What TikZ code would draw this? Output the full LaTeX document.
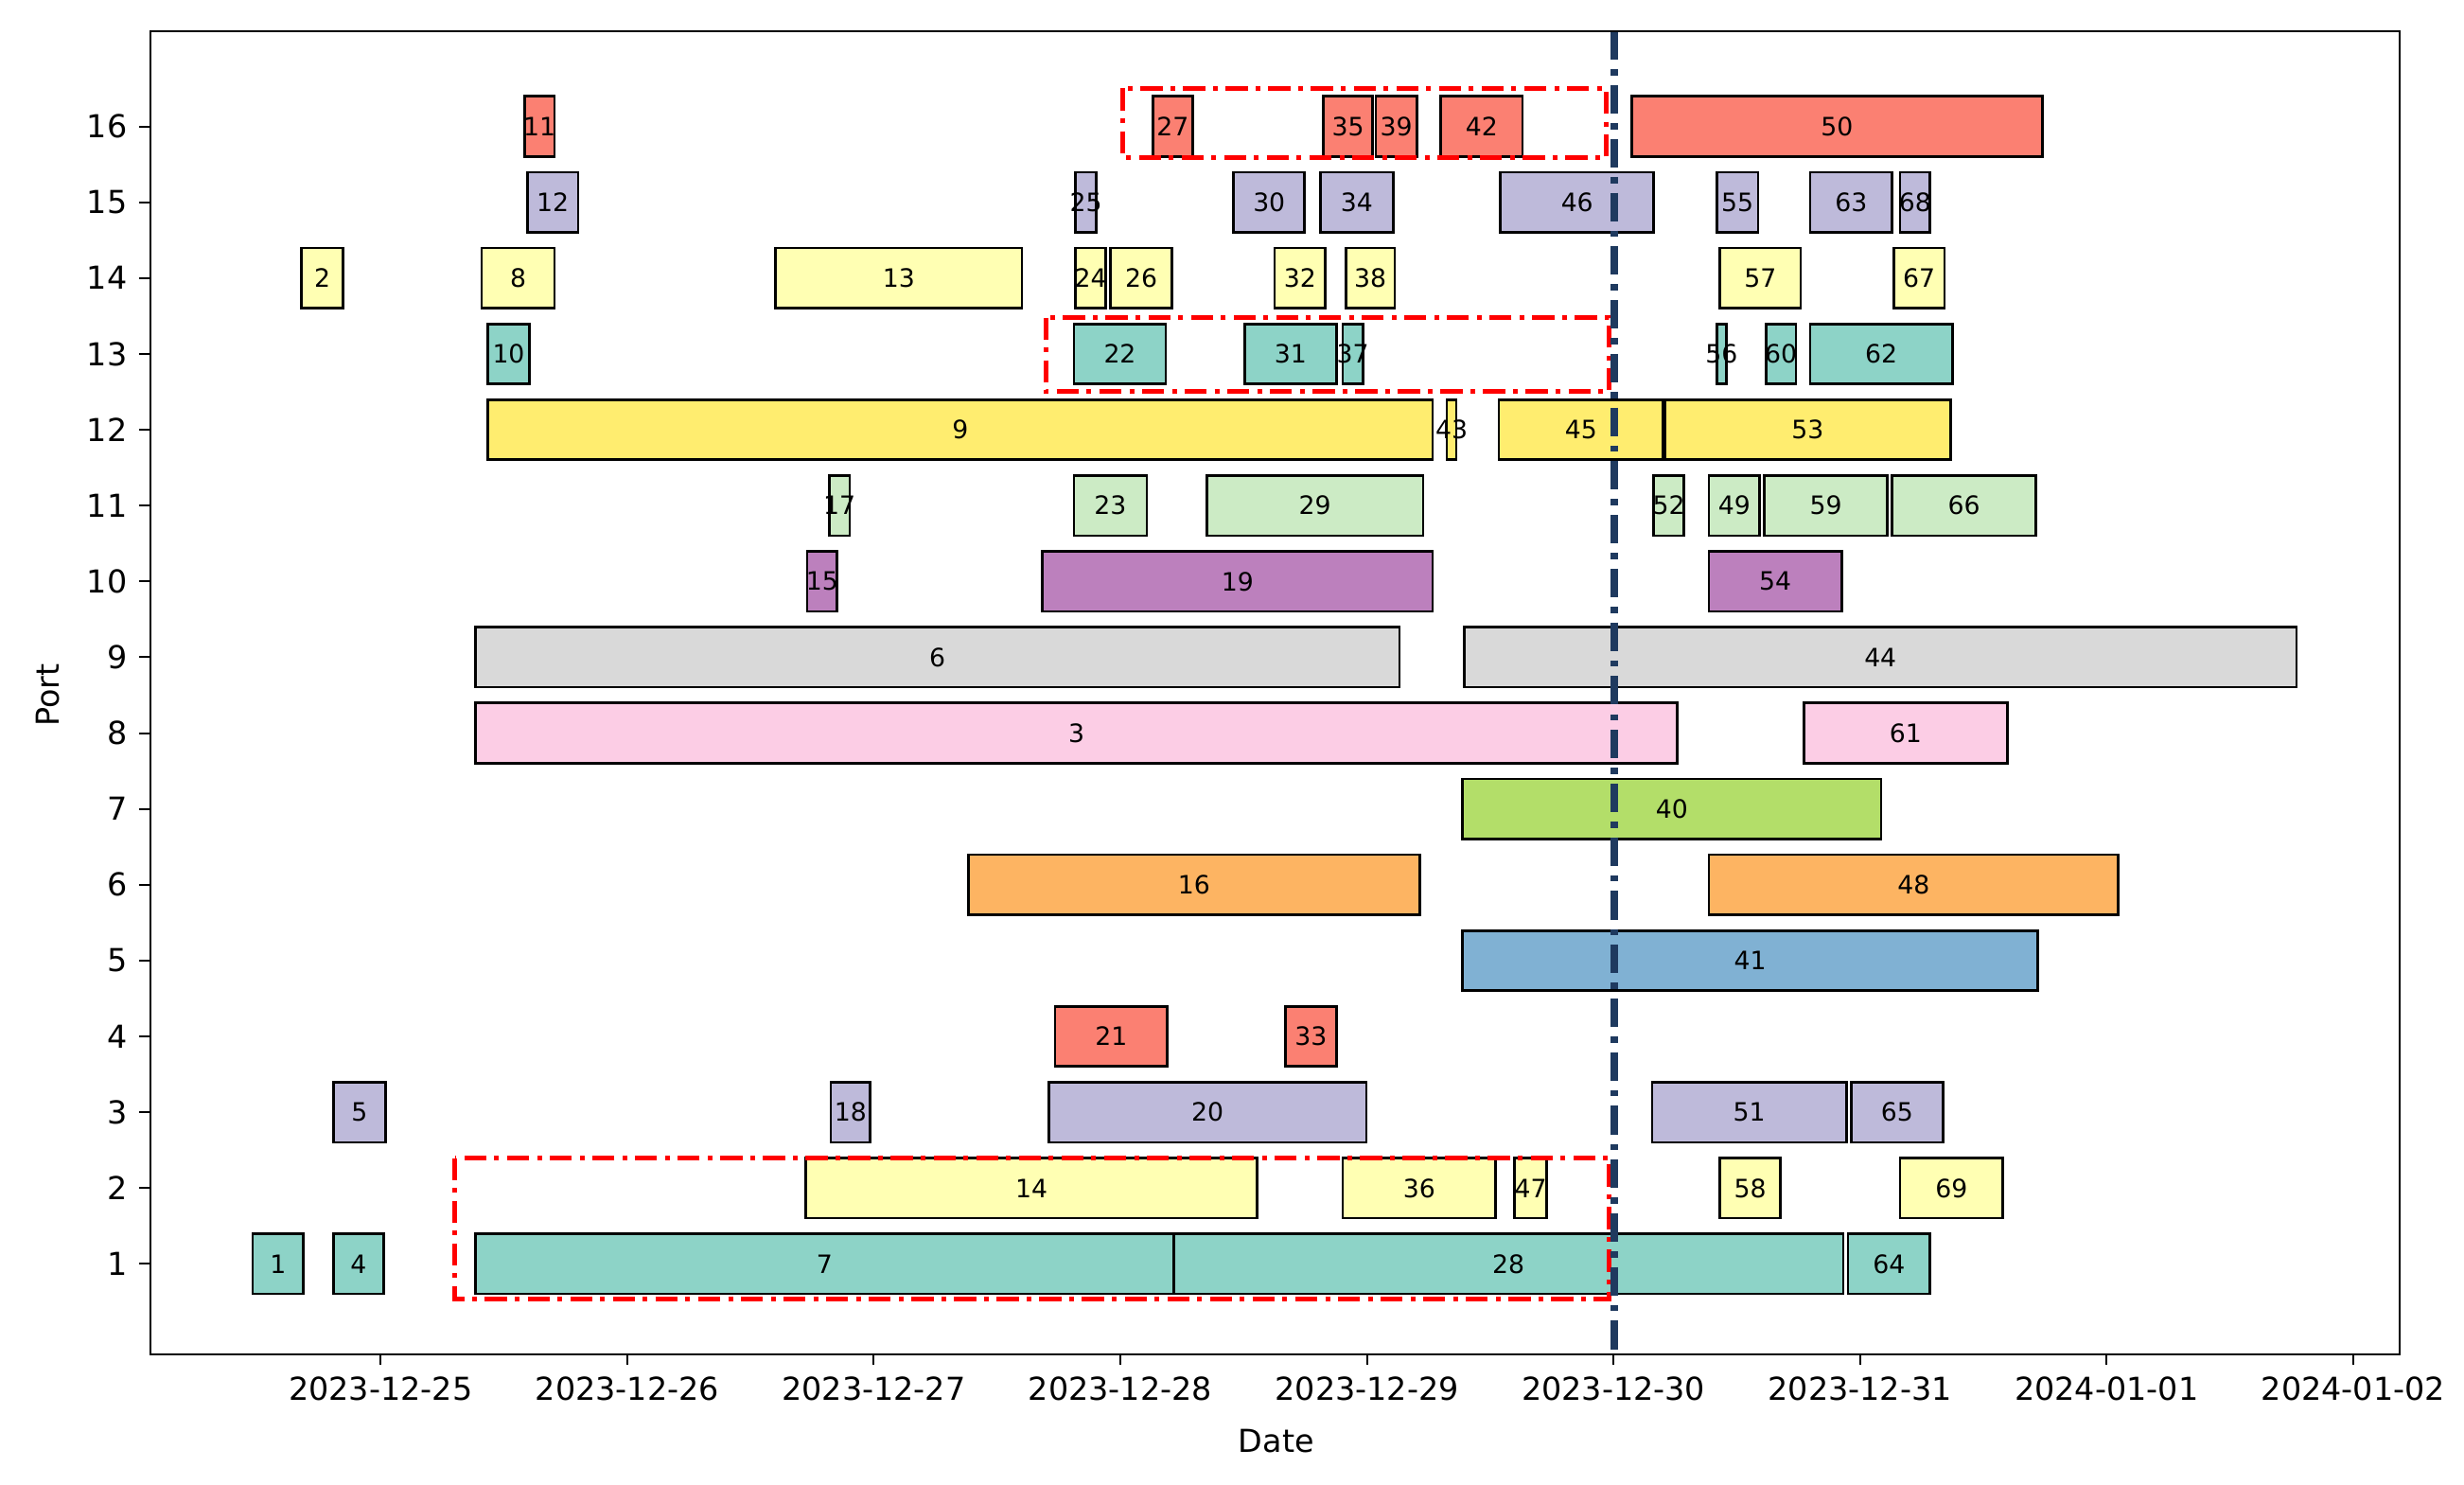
\documentclass[tikz,border=0pt]{standalone}
\usepackage{fontspec}
\setmainfont{DejaVu Sans}
\begin{document}
\begin{tikzpicture}[x=1pt,y=-1pt,
  bar/.style={draw=black,line width=1.6pt},
  lab/.style={font=\fontsize{16}{18}\selectfont},
  tk/.style={font=\fontsize{20}{22}\selectfont},
  redbox/.style={draw=red,line width=3pt,dash pattern=on 14pt off 5pt on 3pt off 5pt}]
\useasboundingbox (0,0) rectangle (1560,939.4);
\definecolor{c1}{HTML}{8DD3C7}\definecolor{c2}{HTML}{FFFFB3}\definecolor{c3}{HTML}{BEBADA}
\definecolor{c4}{HTML}{FB8072}\definecolor{c5}{HTML}{80B1D3}\definecolor{c6}{HTML}{FDB462}
\definecolor{c7}{HTML}{B3DE69}\definecolor{c8}{HTML}{FCCDE5}\definecolor{c9}{HTML}{D9D9D9}
\definecolor{c10}{HTML}{BC80BD}\definecolor{c11}{HTML}{CCEBC5}\definecolor{c12}{HTML}{FFED6F}
\definecolor{c13}{HTML}{8DD3C7}\definecolor{c14}{HTML}{FFFFB3}\definecolor{c15}{HTML}{BEBADA}
\definecolor{c16}{HTML}{FB8072}\definecolor{navy}{HTML}{1F3A5F}
\foreach \p/\a/\b/\t in {1/160/192/1,1/211/243/4,1/301/743/7,1/743/1167/28,1/1170/1222/64,
 2/510/796/14,2/850/947/36,2/959/979/47,2/1089/1127/58,2/1203/1268/69,
 3/211/244/5,3/526/551/18,3/664/865/20,3/1046/1169/51,3/1172/1230/65,
 4/668/739/21,4/814/846/33,5/926/1290/41,6/613/899/16,6/1082/1341/48,7/926/1191/40,
 8/301/1062/3,8/1142/1271/61,9/301/886/6,9/927/1454/44,
 10/511/530/15,10/660/907/19,10/1082/1166/54,
 11/525/538/17,11/680/726/23,11/764/901/29,11/1047/1066/52,11/1082/1114/49,11/1117/1195/59,11/1198/1289/66,
 12/309/907/9,12/916/922/43,12/949/1053/45,12/1054/1235/53,
 13/309/335/10,13/680/738/22,13/788/846/31,13/850/863/37,13/1087/1093/56,13/1118/1137/60,13/1146/1236/62,
 14/191/217/2,14/305/351/8,14/491/647/13,14/681/700/24,14/703/742/26,14/807/839/32,14/852/883/38,14/1089/1140/57,14/1199/1231/67,
 15/334/366/12,15/681/694/25,15/781/826/30,15/836/882/34,15/950/1047/46,15/1087/1113/55,15/1146/1198/63,15/1203/1222/68,
 16/332/351/11,16/730/755/27,16/838/869/35,16/871/897/39,16/912/964/42,16/1033/1293/50}
{ \pgfmathsetmacro\yc{800-48*(\p-1)}
  \draw[bar,fill=c\p] (\a,\yc-19) rectangle (\b,\yc+19);
  \node[lab] (n\t) at ({(\a+\b)/2},\yc) {\t}; }
\draw[redbox] (288,733) rectangle (1019,822);
\draw[redbox] (662,201) rectangle (1019,248);
\draw[redbox] (711,56) rectangle (1017,100);
\coordinate (vt) at (1022,20); \coordinate (vb) at (1022,857);
\draw[navy,line width=4.5pt,dash pattern=on 18pt off 6pt on 4pt off 6pt] (vt) -- (vb);
\draw[line width=1.2pt] (95,20) rectangle (1519,857);
\foreach \i/\d in {0/2023-12-25,1/2023-12-26,2/2023-12-27,3/2023-12-28,4/2023-12-29,5/2023-12-30,6/2023-12-31,7/2024-01-01,8/2024-01-02}
{ \draw[line width=1.2pt] (241+156.1*\i,857) -- ++(0,7);
  \node[tk,anchor=north] (x\i) at (241+156.1*\i,868) {\d}; }
\foreach \p in {1,...,16}
{ \draw[line width=1.2pt] (95,800-48*\p+48) -- ++(-7,0);
  \node[tk,anchor=east] (y\p) at (84,800-48*\p+48) {\p}; }
\node[tk] (xl) at (808,912) {Date};
\node[tk,rotate=90] (yl) at (30,440) {Port};
\end{tikzpicture}
\end{document}
